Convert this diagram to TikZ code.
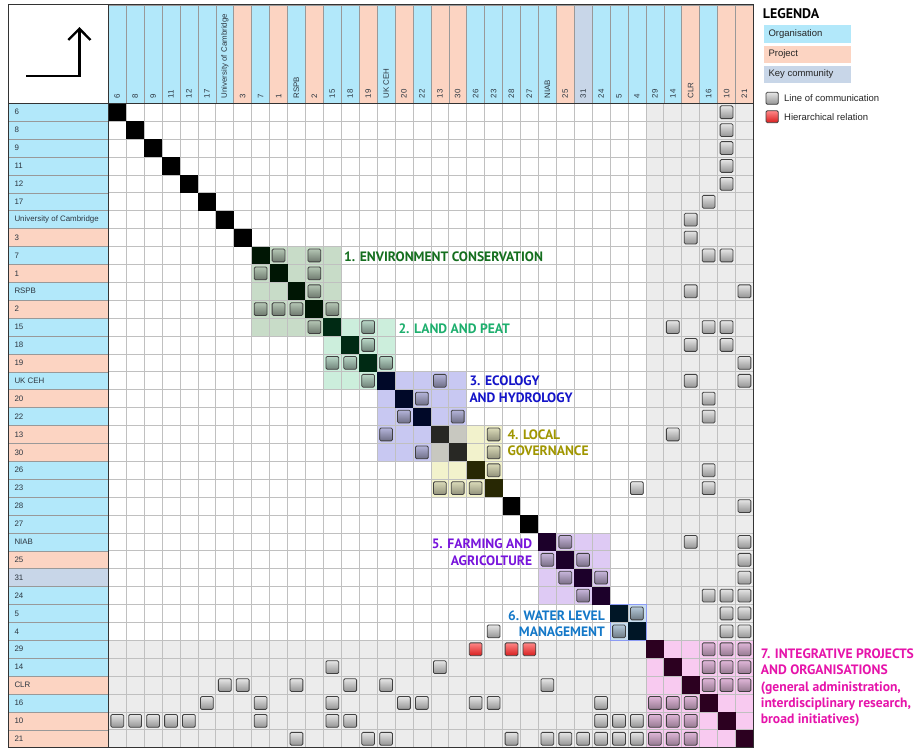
\documentclass[tikz,border=0pt]{standalone}
\usepackage{fontspec}
\setmainfont{Liberation Sans}
\newfontfamily\labfont{PT Sans}
\definecolor{typeO}{RGB}{178,232,250}
\definecolor{typeP}{RGB}{252,212,194}
\definecolor{typeK}{RGB}{200,214,232}
\definecolor{gridbg}{RGB}{236,236,236}
\definecolor{gridln}{RGB}{192,192,192}
\definecolor{txt}{RGB}{45,55,65}
\definecolor{rAbg}{RGB}{200,220,200} \definecolor{rAd}{RGB}{0,22,4}
\definecolor{rBbg}{RGB}{204,238,220} \definecolor{rBd}{RGB}{0,42,20}
\definecolor{rCbg}{RGB}{200,200,242} \definecolor{rCd}{RGB}{0,8,40}
\definecolor{rCDbg}{RGB}{200,200,192} \definecolor{rCDd}{RGB}{40,40,36}
\definecolor{rDbg}{RGB}{242,242,204} \definecolor{rDd}{RGB}{40,40,4}
\definecolor{rEbg}{RGB}{222,202,244} \definecolor{rEd}{RGB}{28,0,42}
\definecolor{rFbg}{RGB}{200,222,240} \definecolor{rFd}{RGB}{0,22,38}
\definecolor{rGbg}{RGB}{248,202,240} \definecolor{rGd}{RGB}{44,0,32}
\definecolor{lA}{RGB}{20,110,30}
\definecolor{lB}{RGB}{30,175,110}
\definecolor{lC}{RGB}{20,20,200}
\definecolor{lD}{RGB}{160,150,0}
\definecolor{lE}{RGB}{120,20,220}
\definecolor{lF}{RGB}{20,120,200}
\definecolor{lG}{RGB}{230,20,170}
\definecolor{redtop}{RGB}{255,135,135}
\definecolor{redbot}{RGB}{215,30,30}
\tikzset{
  boxsty/.style={draw=black!75, line width=0.8pt, rounded corners=1.3pt},
  gb/.style={top color=black!10, bottom color=black!42},
  tA/.style={top color=rAbg!90!black, bottom color=rAbg!55!black},
  tB/.style={top color=rBbg!90!black, bottom color=rBbg!55!black},
  tC/.style={top color=rCbg!90!black, bottom color=rCbg!55!black},
  tD/.style={top color=rDbg!90!black, bottom color=rDbg!60!black},
  tE/.style={top color=rEbg!90!black, bottom color=rEbg!55!black},
  tF/.style={top color=rFbg!90!black, bottom color=rFbg!55!black},
  tG/.style={top color=rGbg!90!black, bottom color=rGbg!60!black},
  rb/.style={top color=redtop, bottom color=redbot},
  gridl/.style={draw=gridln, line width=0.7pt},
  hdr/.style={font=\fontsize{7.9}{8}\selectfont, text=txt, inner sep=0pt},
  rowlab/.style={font=\fontsize{7.9}{8}\selectfont, text=txt, inner sep=0pt},
  clab/.style={font=\labfont\bfseries\fontsize{13.6}{16.3}\selectfont, inner sep=0pt},
  legt/.style={font=\fontsize{9.5}{11}\selectfont, text=black!85, inner sep=0pt, anchor=west},
}
\newcommand{\cellfill}[3]{\fill[#3] ({108.3+(#2-1)*17.92},{103.3+(#1-1)*17.9}) rectangle ({108.3+#2*17.92},{103.3+#1*17.9});}
\newcommand{\regfill}[3]{\fill[#3] ({108.3+(#1-1)*17.92},{103.3+(#1-1)*17.9}) rectangle ({108.3+#2*17.92},{103.3+#2*17.9});}
\newcommand{\bx}[3]{\path[boxsty,#3] ({108.3+(#2-0.5)*17.92-6.4},{103.3+(#1-0.5)*17.9-6.4}) rectangle ++(12.8,12.8);}
\begin{document}
\begin{tikzpicture}[x=1pt,y=-1pt]
\useasboundingbox (0,0) rectangle (918,749);
\fill[white] (0,0) rectangle (918,749);
% header and row labels
\foreach \i/\l/\t in {1/6/O,2/8/O,3/9/O,4/11/O,5/12/O,6/17/O,7/University of Cambridge/O,8/3/P,9/7/O,10/1/P,11/RSPB/O,12/2/P,13/15/O,14/18/O,15/19/P,16/UK CEH/O,17/20/P,18/22/O,19/13/P,20/30/P,21/26/O,22/23/O,23/28/O,24/27/O,25/NIAB/O,26/25/P,27/31/K,28/24/O,29/5/O,30/4/O,31/29/O,32/14/O,33/CLR/P,34/16/O,35/10/P,36/21/P}{
  \filldraw[fill=type\t, draw=black!40, line width=0.5pt] ({108.3+(\i-1)*17.92},5) rectangle ({108.3+\i*17.92},103.3);
  \filldraw[fill=type\t, draw=black!40, line width=0.5pt] (8.3,{103.3+(\i-1)*17.9}) rectangle (108.3,{103.3+\i*17.9});
  \node[hdr, rotate=90, anchor=west] (h\i) at ({108.3+(\i-0.5)*17.92},98.5) {\l};
  \node[rowlab, anchor=west] (r\i) at (14.3,{103.3+(\i-0.5)*17.9}) {\l};
}
% grid background
\fill[gridbg] ({108.3+30*17.92},103.3) rectangle (753.4,747.7);
\fill[gridbg] (108.3,{103.3+30*17.9}) rectangle (753.4,747.7);
% regions
\regfill{9}{13}{rAbg}
\regfill{13}{16}{rBbg}
\regfill{16}{20}{rCbg}
\regfill{19}{22}{rDbg}
\regfill{19}{20}{rCDbg}
\regfill{25}{28}{rEbg}
\regfill{29}{30}{rFbg}
\regfill{31}{36}{rGbg}
% grid lines
\foreach \i in {1,...,35}{
  \draw[gridl] ({108.3+\i*17.92},103.3) -- ({108.3+\i*17.92},747.7);
  \draw[gridl] (108.3,{103.3+\i*17.9}) -- (753.4,{103.3+\i*17.9});
}
\draw[draw=rFbg!70!blue, line width=0.8pt] ({108.3+28*17.92},{103.3+28*17.9}) rectangle ({108.3+30*17.92},{103.3+30*17.9});
% diagonal
\foreach \i/\c in {1/black,2/black,3/black,4/black,5/black,6/black,7/black,8/black,9/rAd,10/rAd,11/rAd,12/rAd,13/rBd,14/rBd,15/rBd,16/rCd,17/rCd,18/rCd,19/rCDd,20/rCDd,21/rDd,22/rDd,23/black,24/black,25/rEd,26/rEd,27/rEd,28/rEd,29/rFd,30/rFd,31/rGd,32/rGd,33/rGd,34/rGd,35/rGd,36/rGd}{
  \cellfill{\i}{\i}{\c}
}
% boxes
\foreach \r/\c in {1/35,2/35,3/35,4/35,5/35,6/34,7/33,8/33,9/34,9/35,11/33,11/36,13/32,13/34,13/35,14/33,14/35,15/36,16/33,16/36,17/34,18/34,19/32,21/34,22/30,22/34,23/36,25/33,25/36,26/36,27/36,28/34,28/35,28/36,29/35,29/36,30/22,30/35,30/36,32/13,32/19,33/7,33/8,33/11,33/14,33/16,33/25,34/6,34/9,34/13,34/17,34/18,34/21,34/22,34/28,35/1,35/2,35/3,35/4,35/5,35/9,35/13,35/14,35/28,35/29,35/30,36/11,36/15,36/16,36/23,36/25,36/26,36/27,36/28,36/29,36/30}{\bx{\r}{\c}{gb}}
\foreach \r/\c in {9/10,9/12,10/9,10/12,11/12,12/9,12/10,12/11,12/13,13/12}{\bx{\r}{\c}{tA}}
\foreach \r/\c in {13/15,14/15,15/13,15/14,15/16,16/15}{\bx{\r}{\c}{tB}}
\foreach \r/\c in {16/19,17/18,18/17,18/20,19/16,20/18}{\bx{\r}{\c}{tC}}
\foreach \r/\c in {19/22,20/22,21/22,22/19,22/20,22/21}{\bx{\r}{\c}{tD}}
\foreach \r/\c in {25/26,26/25,26/27,27/26,27/28,28/27}{\bx{\r}{\c}{tE}}
\foreach \r/\c in {29/30,30/29}{\bx{\r}{\c}{tF}}
\foreach \r/\c in {31/34,31/35,31/36,32/34,32/35,32/36,33/34,33/35,33/36,34/31,34/32,34/33,35/31,35/32,35/33,36/31,36/32,36/33}{\bx{\r}{\c}{tG}}
\foreach \r/\c in {31/21,31/23,31/24}{\bx{\r}{\c}{rb}}
% frame
\draw[black!80, line width=1pt] (8.3,5) rectangle (753.4,747.7);
\draw[black!80, line width=1.4pt] (8.3,103.3) -- (753.4,103.3);
\draw[black!80, line width=1.4pt] (108.3,5) -- (108.3,747.7);
% corner arrow
\draw[line width=2.4pt] (26,76) -- (79.4,76) -- (79.4,29.5);
\draw[line width=2.4pt, line join=miter] (68.3,40) -- (79.4,28.8) -- (90.5,40);
% cluster labels
\node[clab, text=lA, anchor=west] (c1) at (344,256.7) {1. ENVIRONMENT CONSERVATION};
\node[clab, text=lB, anchor=west] (c2) at (398.3,328.3) {2. LAND AND PEAT};
\node[clab, text=lC, anchor=west, align=left] (c3) at (469.3,389.2) {3. ECOLOGY\\AND HYDROLOGY};
\node[clab, text=lD, anchor=west, align=left] (c4) at (507.3,442.7) {4. LOCAL\\GOVERNANCE};
\node[clab, text=lE, anchor=east, align=right] (c5) at (532.3,552.3) {5. FARMING AND\\AGRICOLTURE};
\node[clab, text=lF, anchor=east, align=right] (c6) at (605,623.7) {6. WATER LEVEL\\MANAGEMENT};
\node[clab, text=lG, anchor=north west, align=left] (c7) at (760.7,648.5) {7. INTEGRATIVE PROJECTS\\AND ORGANISATIONS\\(general administration,\\interdisciplinary research,\\broad initiatives)};
% legend
\node[font=\labfont\bfseries\fontsize{13.9}{14}\selectfont, anchor=west, inner sep=0pt] (leg) at (762.7,13.3) {LEGENDA};
\fill[typeO] (764,25) rectangle (850.7,42.7);
\fill[typeP] (764,45.7) rectangle (850.7,62.7);
\fill[typeK] (764,65.7) rectangle (850.7,82.7);
\node[legt] (lo) at (768.3,33.9) {Organisation};
\node[legt] (lp) at (768.3,54.2) {Project};
\node[legt] (lk) at (768.3,74.2) {Key community};
\path[boxsty,gb] (766,92.3) rectangle (778.3,104.3);
\path[boxsty,rb] (766,110.7) rectangle (778.3,122.7);
\node[legt] (ll) at (784,98.3) {Line of communication};
\node[legt] (lh) at (784,116.7) {Hierarchical relation};
\end{tikzpicture}
\end{document}
